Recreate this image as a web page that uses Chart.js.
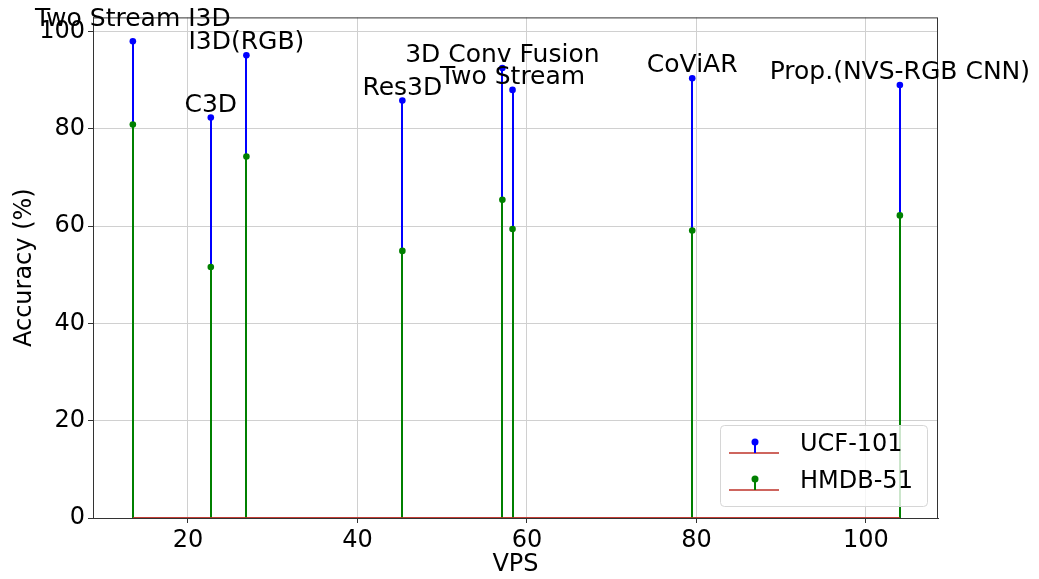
<!DOCTYPE html>
<html>
<head>
<meta charset="utf-8">
<script src="https://cdn.jsdelivr.net/npm/chart.js@4.4.1/dist/chart.umd.min.js"></script>
<style>
  html, body { margin: 0; padding: 0; background: #fff; }
  #wrap { width: 1039px; height: 579px; position: relative; }
</style>
</head>
<body>
<div id="wrap"><canvas id="vpsChart"></canvas></div>
<script>
const methodNames = [
  'Two Stream I3D', 'C3D', 'I3D(RGB)', 'Res3D',
  '3D Conv Fusion', 'Two Stream', 'CoViAR', 'Prop.(NVS-RGB CNN)'
];
const vps = [13.5, 22.7, 26.9, 45.3, 57.1, 58.3, 79.5, 104.0];
const ucfAccuracy = [98.0, 82.3, 95.1, 85.8, 92.5, 88.0, 90.4, 89.0];
const hmdbAccuracy = [80.9, 51.6, 74.3, 54.9, 65.4, 59.4, 59.1, 62.2];
const xTicks = [20, 40, 60, 80, 100];
const yTicks = [0, 20, 40, 60, 80, 100];

const FONT = 'DejaVu Sans';
const baselineColor = 'rgb(190, 50, 40)';

function toPoints(values) {
  return vps.map((x, i) => ({ x, y: values[i] }));
}

// vertical stems from each marker to zero, plus the red baseline
const stemPlugin = {
  id: 'stems',
  beforeDatasetsDraw(chart) {
    const { ctx, scales: { x, y } } = chart;
    const y0 = y.getPixelForValue(0);
    const xMin = x.getPixelForValue(Math.min(...vps));
    const xMax = x.getPixelForValue(Math.max(...vps));
    ctx.save();
    chart.data.datasets.forEach((ds) => {
      ctx.strokeStyle = ds.backgroundColor;
      ctx.lineWidth = 2;
      ds.data.forEach((p) => {
        const px = Math.round(x.getPixelForValue(p.x));
        ctx.beginPath();
        ctx.moveTo(px, y.getPixelForValue(p.y));
        ctx.lineTo(px, y0);
        ctx.stroke();
      });
      ctx.strokeStyle = baselineColor;
      ctx.lineWidth = 1.5;
      ctx.beginPath();
      ctx.moveTo(xMin, y0);
      ctx.lineTo(xMax, y0);
      ctx.stroke();
    });
    ctx.restore();
  },
  afterDatasetsDraw(chart) {
    const { ctx, chartArea: a, scales: { x, y } } = chart;
    ctx.save();
    // axes frame
    ctx.strokeStyle = '#333';
    ctx.lineWidth = 1;
    ctx.strokeRect(a.left + 0.5, a.top + 0.5, a.right - a.left - 1, a.bottom - a.top);

    // method names above the UCF-101 markers
    ctx.fillStyle = '#000';
    ctx.font = `25px "${FONT}"`;
    ctx.textAlign = 'center';
    ctx.textBaseline = 'alphabetic';
    methodNames.forEach((name, i) => {
      const lift = name === 'Two Stream I3D' ? 15 : 6;
      ctx.fillText(name, x.getPixelForValue(vps[i]), y.getPixelForValue(ucfAccuracy[i]) - lift);
    });
    ctx.restore();
  },
  afterDraw(chart) {
    const { ctx, chartArea: a } = chart;
    const boxW = 207, boxH = 81;
    const bx = a.right - 11 - boxW;
    const by = a.bottom - 12 - boxH;
    ctx.save();
    ctx.fillStyle = 'rgba(255, 255, 255, 0.8)';
    ctx.strokeStyle = '#d6d6d6';
    ctx.lineWidth = 1;
    ctx.beginPath();
    ctx.roundRect(bx + 0.5, by + 0.5, boxW, boxH, 4);
    ctx.fill();
    ctx.stroke();

    chart.data.datasets.forEach((ds, i) => {
      const lineY = by + 28 + i * 37;
      const hx = bx + 35;
      ctx.strokeStyle = baselineColor;
      ctx.lineWidth = 1.5;
      ctx.beginPath();
      ctx.moveTo(bx + 9, lineY);
      ctx.lineTo(bx + 59, lineY);
      ctx.stroke();
      ctx.strokeStyle = ds.backgroundColor;
      ctx.lineWidth = 2;
      ctx.beginPath();
      ctx.moveTo(hx, lineY);
      ctx.lineTo(hx, lineY - 11);
      ctx.stroke();
      ctx.fillStyle = ds.backgroundColor;
      ctx.beginPath();
      ctx.arc(hx, lineY - 11, 3.5, 0, Math.PI * 2);
      ctx.fill();

      ctx.fillStyle = '#000';
      ctx.font = `24px "${FONT}"`;
      ctx.textAlign = 'left';
      ctx.textBaseline = 'middle';
      ctx.fillText(ds.label, bx + 80, lineY - 8);
    });
    ctx.restore();
  }
};

const tickFont = { family: FONT, size: 24 };

new Chart(document.getElementById('vpsChart'), {
  type: 'scatter',
  data: {
    datasets: [
      {
        label: 'UCF-101',
        data: toPoints(ucfAccuracy),
        backgroundColor: '#0000ff',
        pointRadius: 3.3,
        pointBorderWidth: 0,
        clip: false,
      },
      {
        label: 'HMDB-51',
        data: toPoints(hmdbAccuracy),
        backgroundColor: '#008000',
        pointRadius: 3.3,
        pointBorderWidth: 0,
        clip: false,
      },
    ],
  },
  options: {
    responsive: true,
    maintainAspectRatio: false,
    animation: false,
    layout: { padding: { left: 0, right: 101, top: 17, bottom: 0 } },
    plugins: {
      legend: { display: false },
      tooltip: { enabled: false },
    },
    scales: {
      x: {
        type: 'linear',
        min: 8.8,
        max: 108.5,
        afterBuildTicks(scale) {
          scale.ticks = xTicks.map((value) => ({ value }));
        },
        afterFit(scale) {
          scale.height = 61;
        },
        ticks: { font: tickFont, color: '#000', padding: 3, maxRotation: 0 },
        grid: { color: '#d0d0d0', tickColor: '#333', tickLength: 5 },
        border: { color: '#333' },
        title: {
          display: true,
          text: 'VPS',
          color: '#000',
          font: { family: FONT, size: 24 },
          padding: { top: 0, bottom: 0 },
        },
      },
      y: {
        min: 0,
        max: 102.9,
        afterBuildTicks(scale) {
          scale.ticks = yTicks.map((value) => ({ value }));
        },
        afterFit(scale) {
          scale.width = 93;
        },
        ticks: { font: tickFont, color: '#000', padding: 3 },
        grid: { color: '#d0d0d0', tickColor: '#333', tickLength: 5 },
        border: { color: '#333' },
        title: {
          display: true,
          text: 'Accuracy (%)',
          color: '#000',
          font: { family: FONT, size: 24 },
          padding: { top: 10, bottom: 0 },
        },
      },
    },
  },
  plugins: [stemPlugin],
});
</script>
</body>
</html>
